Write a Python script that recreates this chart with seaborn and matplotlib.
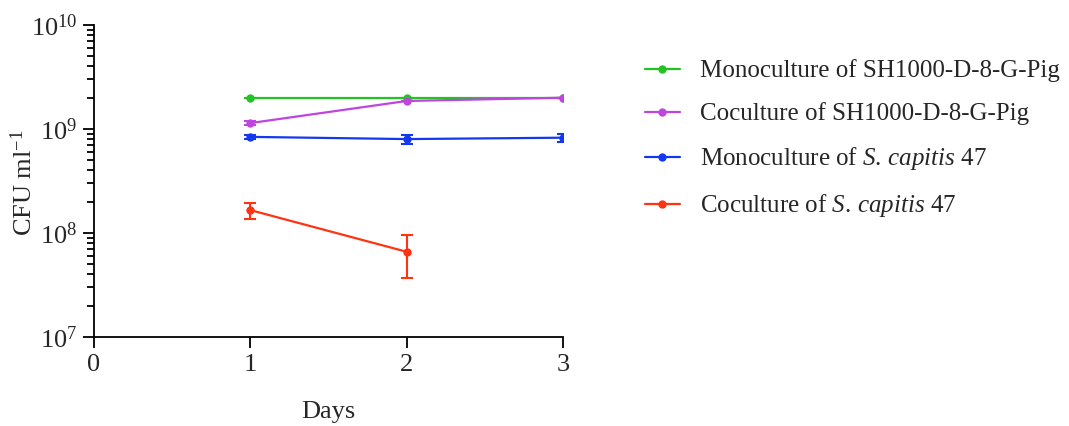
import numpy as np
import pandas as pd
import matplotlib
matplotlib.use("Agg")
import matplotlib.pyplot as plt
import seaborn as sns
from matplotlib.ticker import LogLocator, NullFormatter, FixedLocator

days = [1, 2, 3]
mono_sh = [2.0e9, 2.0e9, 2.0e9]
mono_sh_sd = [0.0, 0.0, 0.0]
co_sh = [1.14e9, 1.86e9, 2.0e9]
co_sh_sd = [0.05e9, 0.0, 0.0]
mono_sc = [8.4e8, 8.0e8, 8.25e8]
mono_sc_sd = [0.43e8, 0.8e8, 0.75e8]
co_sc_days = [1, 2]
co_sc = [1.66e8, 0.66e8]
co_sc_sd = [0.30e8, 0.29e8]

labels = ["Monoculture of SH1000-D-8-G-Pig",
          "Coculture of SH1000-D-8-G-Pig",
          "Monoculture of $\\mathit{S.\\,capitis}$ 47",
          "Coculture of $\\mathit{S.\\,capitis}$ 47"]
colors = ["#22C322", "#C044E0", "#1438F0", "#FF3312"]

rows = []
for d, v in zip(days, mono_sh):
    rows.append((labels[0], d, v))
for d, v in zip(days, co_sh):
    rows.append((labels[1], d, v))
for d, v in zip(days, mono_sc):
    rows.append((labels[2], d, v))
for d, v in zip(co_sc_days, co_sc):
    rows.append((labels[3], d, v))
df = pd.DataFrame(rows, columns=["series", "day", "cfu"])

sns.set_style("ticks")
plt.rcParams['font.family'] = ['Liberation Serif', 'DejaVu Serif']
plt.rcParams['mathtext.fontset'] = 'custom'
plt.rcParams['mathtext.rm'] = 'Liberation Serif'
plt.rcParams['mathtext.it'] = 'Liberation Serif:italic'
plt.rcParams['mathtext.bf'] = 'Liberation Serif:bold'

fig = plt.figure(figsize=(10.69, 4.26), dpi=100)
ax = fig.add_axes([94/1069, 1-337/426, (563-94)/1069, (337-25)/426])

sds = [mono_sh_sd, co_sh_sd, mono_sc_sd, co_sc_sd]
xs = [days, days, days, co_sc_days]
ys = [mono_sh, co_sh, mono_sc, co_sc]
for lab, col, x, y, sd in zip(labels, colors, xs, ys, sds):
    ax.errorbar(x, y, yerr=sd, fmt='none', ecolor=col, elinewidth=1.5,
                capsize=4, capthick=1.5, zorder=2)

sns.lineplot(data=df, x="day", y="cfu", hue="series", hue_order=labels,
             palette=colors, marker="o", markersize=6, markeredgewidth=0,
             linewidth=1.6, ax=ax, legend=True, zorder=3)

ax.set_yscale("log")
ax.set_ylim(1e7, 1e10)
ax.set_xlim(0, 3)
ax.xaxis.set_major_locator(FixedLocator([0, 1, 2, 3]))
ax.set_xticklabels(["0", "1", "2", "3"])
ax.yaxis.set_major_locator(FixedLocator([1e7, 1e8, 1e9, 1e10]))
ax.set_yticklabels(["$10^7$", "$10^8$", "$10^9$", "$10^{10}$"])
ax.yaxis.set_minor_locator(LogLocator(base=10, subs=np.arange(2, 10), numticks=20))
ax.yaxis.set_minor_formatter(NullFormatter())

for s in ["top", "right"]:
    ax.spines[s].set_visible(False)
for s in ["left", "bottom"]:
    ax.spines[s].set_linewidth(1.3)
    ax.spines[s].set_color("black")
ax.tick_params(axis="both", which="major", length=8, width=1.3, labelsize=19,
               color="black", pad=4)
ax.tick_params(axis="y", which="minor", length=5, width=1.3, color="black")

ax.set_xlabel("Days", fontsize=19, labelpad=18)
ax.set_ylabel("CFU ml$^{-1}$", fontsize=19)
ax.yaxis.set_label_coords(-0.122, 0.494)

handles, labs = ax.get_legend_handles_labels()
ax.get_legend().remove()
fig.legend(handles, labs, loc="upper left", bbox_to_anchor=(622/1069, 1-37/426),
           frameon=False, fontsize=18, handlelength=1.4, handletextpad=0.8,
           labelspacing=0.8)

fig.savefig("out.png", dpi=100)
